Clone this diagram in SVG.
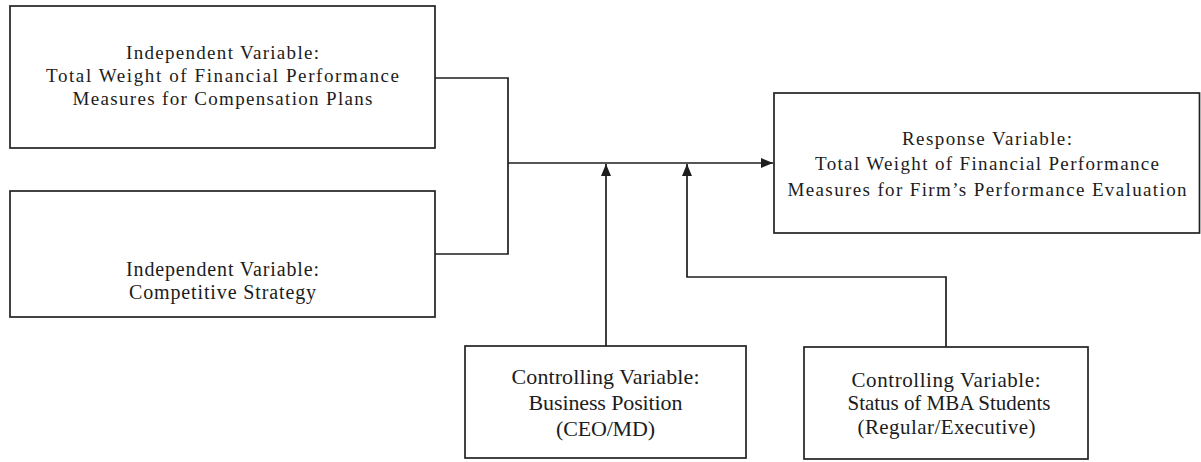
<svg xmlns="http://www.w3.org/2000/svg" width="1201" height="462" viewBox="0 0 1201 462">
  <style>
    .box { fill: #ffffff; stroke: #222222; stroke-width: 1.7; }
    .lbl { font-family: "Liberation Serif", "Times New Roman", serif; fill: #1c1c1c; text-anchor: middle; }
    .s19 { font-size: 19px; }
    .s20 { font-size: 20px; }
    .s21 { font-size: 21px; }
    .s22 { font-size: 22px; }
    .wire { fill: none; stroke: #1e1e1e; stroke-width: 1.7; }
  </style>
  <defs>
    <marker id="head" markerUnits="userSpaceOnUse" markerWidth="13" markerHeight="11" refX="12" refY="5" orient="auto">
      <path d="M0,0 L12,5 L0,10 Z" fill="#1e1e1e"/>
    </marker>
  </defs>

  <rect width="1201" height="462" fill="#ffffff"/>

  <!-- connectors -->
  <g id="connectors">
    <path class="wire" d="M435,78 H508 V254 H435"/>
    <path class="wire" d="M508,163 H773" marker-end="url(#head)"/>
    <path class="wire" d="M606,346 V164" marker-end="url(#head)"/>
    <path class="wire" d="M946,347 V277 H687 V164" marker-end="url(#head)"/>
  </g>

  <g id="independent-compensation">
    <rect class="box" x="10" y="6" width="425" height="142"/>
    <text class="lbl s19" x="222.5" y="58.5" textLength="193" lengthAdjust="spacing">Independent Variable:</text>
    <text class="lbl s19" x="222.5" y="81.5" textLength="353" lengthAdjust="spacing">Total Weight of Financial Performance</text>
    <text class="lbl s19" x="222.5" y="104.5" textLength="300" lengthAdjust="spacing">Measures for Compensation Plans</text>
  </g>

  <g id="independent-strategy">
    <rect class="box" x="10" y="191" width="425" height="126"/>
    <text class="lbl s20" x="222.5" y="276" textLength="193" lengthAdjust="spacing">Independent Variable:</text>
    <text class="lbl s20" x="222.5" y="298.5" textLength="187" lengthAdjust="spacing">Competitive Strategy</text>
  </g>

  <g id="response">
    <rect class="box" x="774" y="93" width="425.5" height="140"/>
    <text class="lbl s19" x="987" y="144.5" textLength="170" lengthAdjust="spacing">Response Variable:</text>
    <text class="lbl s19" x="987" y="170" textLength="344" lengthAdjust="spacing">Total Weight of Financial Performance</text>
    <text class="lbl s19" x="987" y="196" textLength="399" lengthAdjust="spacing">Measures for Firm’s Performance Evaluation</text>
  </g>

  <g id="control-position">
    <rect class="box" x="465" y="346" width="281" height="112"/>
    <text class="lbl s22" x="605.5" y="384" textLength="188" lengthAdjust="spacing">Controlling Variable:</text>
    <text class="lbl s22" x="605.5" y="409.5" textLength="154" lengthAdjust="spacing">Business Position</text>
    <text class="lbl s22" x="605.5" y="436" textLength="99" lengthAdjust="spacing">(CEO/MD)</text>
  </g>

  <g id="control-status">
    <rect class="box" x="804" y="347" width="284" height="112"/>
    <text class="lbl s21" x="946" y="386.5" textLength="189" lengthAdjust="spacing">Controlling Variable:</text>
    <text class="lbl s21" x="949" y="410" textLength="203" lengthAdjust="spacing">Status of MBA Students</text>
    <text class="lbl s21" x="946.5" y="434" textLength="178" lengthAdjust="spacing">(Regular/Executive)</text>
  </g>
</svg>
